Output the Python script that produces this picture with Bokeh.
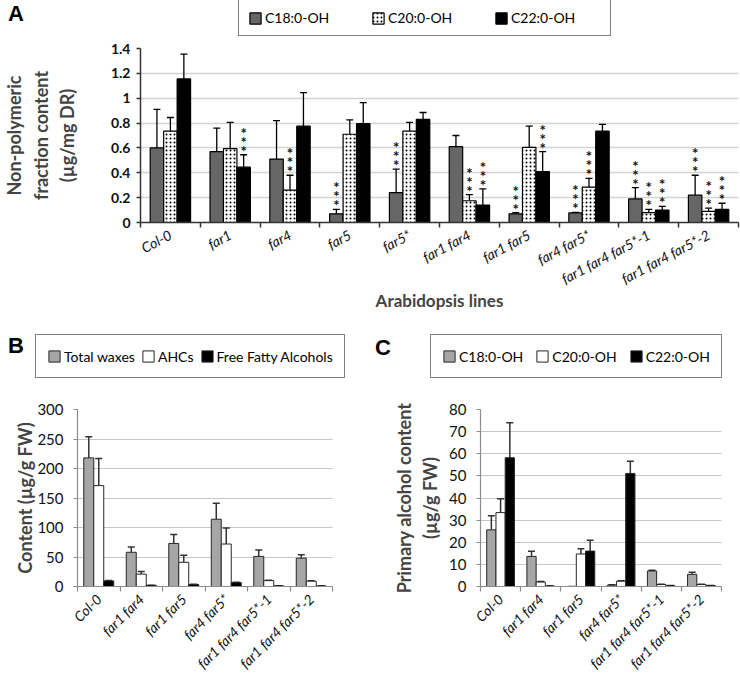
import numpy as np
from bokeh.plotting import figure
from bokeh.models import (ColumnDataSource, Range1d, FixedTicker, Whisker, TeeHead,
                          Legend, LegendItem, Div, PrintfTickFormatter)
from bokeh.layouts import column, row
from bokeh.embed import file_html
from bokeh.resources import INLINE
from bokeh.core.properties import value

FONT = "Lato"

# ---------------- Panel A data ----------------
lines_a = ["Col-0", "far1", "far4", "far5", "far5*", "far1 far4", "far1 far5",
           "far4 far5*", "far1 far4 far5*-1", "far1 far4 far5*-2"]
series_a = ["C18:0-OH", "C20:0-OH", "C22:0-OH"]
c18_a = [0.60, 0.57, 0.51, 0.07, 0.24, 0.61, 0.07, 0.077, 0.19, 0.22]
c18_a_err = [0.31, 0.19, 0.31, 0.035, 0.19, 0.09, 0.01, 0.005, 0.09, 0.16]
c20_a = [0.735, 0.595, 0.26, 0.71, 0.735, 0.175, 0.605, 0.285, 0.08, 0.09]
c20_a_err = [0.11, 0.21, 0.12, 0.115, 0.07, 0.05, 0.17, 0.07, 0.025, 0.025]
c22_a = [1.155, 0.445, 0.775, 0.795, 0.83, 0.14, 0.41, 0.735, 0.10, 0.105]
c22_a_err = [0.20, 0.10, 0.27, 0.17, 0.055, 0.13, 0.16, 0.055, 0.03, 0.05]
c18_a_sig = [0, 0, 0, 1, 1, 0, 1, 1, 1, 1]
c20_a_sig = [0, 0, 1, 0, 0, 1, 0, 1, 1, 1]
c22_a_sig = [0, 1, 0, 0, 0, 1, 1, 0, 1, 1]
y_ticks_a = [0, 0.2, 0.4, 0.6, 0.8, 1.0, 1.2, 1.4]

# ---------------- Panel B data ----------------
lines_bc = ["Col-0", "far1 far4", "far1 far5", "far4 far5*",
            "far1 far4 far5*-1", "far1 far4 far5*-2"]
series_b = ["Total waxes", "AHCs", "Free Fatty Alcohols"]
total_b = [218, 58, 73, 114, 51, 48]
total_b_err = [36, 9, 15, 27, 11, 6]
ahc_b = [171, 21, 41, 72, 10, 9]
ahc_b_err = [46, 4.5, 12, 27, 0.8, 0.8]
ffa_b = [9.5, 2, 3.4, 6.8, 1.1, 1.0]
ffa_b_err = [0.8, 0.3, 0.3, 0.5, 0.2, 0.2]
y_ticks_b = [0, 50, 100, 150, 200, 250, 300]

# ---------------- Panel C data ----------------
series_c = ["C18:0-OH", "C20:0-OH", "C22:0-OH"]
c18_c = [25.6, 13.6, 0, 0.6, 7.0, 5.5]
c18_c_err = [6.4, 2.3, 0, 0.2, 0.3, 0.9]
c20_c = [33.4, 2.0, 14.7, 2.4, 0.9, 0.9]
c20_c_err = [6.3, 0.3, 2.4, 0.2, 0.1, 0.1]
c22_c = [58.2, 0.2, 16.0, 51.1, 0.3, 0.4]
c22_c_err = [15.8, 0.1, 4.9, 5.5, 0.1, 0.1]
y_ticks_c = [0, 10, 20, 30, 40, 50, 60, 70, 80]

STYLE_A = [dict(fill="#666666"), dict(fill="white", hatch="dot", hatch_scale=4),
           dict(fill="black")]
STYLE_BC = [dict(fill="#a6a6a6"), dict(fill="white"), dict(fill="black")]


def bar_kwargs(st, outline, outline_w):
    kw = dict(fill_color=st["fill"], line_color=outline, line_width=outline_w)
    if st.get("hatch"):
        kw.update(hatch_pattern=st["hatch"], hatch_color="black",
                  hatch_scale=st.get("hatch_scale", 4), hatch_weight=1)
    return kw


def letter_div(letter, width, height, pad_left, pad_top):
    html = ('<div style="font-family: \'Liberation Sans\', Arial, sans-serif; '
            'font-weight: bold; font-size: 22px; line-height: 22px; color: black; '
            f'padding-left: {pad_left}px; padding-top: {pad_top}px;">{letter}</div>')
    return Div(text=html, width=width, height=height, margin=0)


def build_header(names, vals, styles, cfg):
    """Strip above a panel that carries the framed legend box."""
    w, h = cfg["width"], cfg["height"]
    n = len(vals[0])
    hp = figure(width=w, height=h, x_range=Range1d(0, n), y_range=Range1d(0, 1),
                x_axis_type=None, y_axis_type=None, output_backend="svg",
                toolbar_location=None, min_border=0)
    hp.outline_line_color = None
    items = []
    for k, (name, st) in enumerate(zip(names, styles)):
        # legend swatch renderer (same series, hidden: the bars live in the panel below)
        src = ColumnDataSource(dict(x=np.arange(n) + 0.5, top=vals[k]))
        r = hp.vbar(x="x", top="top", width=0.2, source=src,
                    **bar_kwargs(st, cfg["outline"], cfg["outline_w"]))
        r.visible = False
        items.append(LegendItem(label=name, renderers=[r]))
    leg = Legend(items=items, orientation="horizontal", location=cfg["leg_loc"],
                 margin=0, padding=cfg["leg_pad"], spacing=cfg["leg_sp"],
                 glyph_width=14, glyph_height=14, label_standoff=3,
                 label_width=cfg.get("leg_lw", 0), label_height=cfg["leg_lh"],
                 label_text_font=FONT, label_text_font_size=cfg["leg_fs"],
                 label_text_color="black", click_policy="none",
                 inactive_fill_alpha=0.0,
                 border_line_color="black", border_line_width=1.2,
                 background_fill_color="white", background_fill_alpha=1.0)
    hp.add_layout(leg)
    return hp


def build_panel(lines, names, vals, errs, sigs, styles, cfg):
    n = len(lines)
    centers = np.arange(n) + 0.5
    p = figure(width=cfg["width"], height=cfg["height"],
               x_range=Range1d(0, n), y_range=Range1d(cfg["y_ticks"][0], cfg["y_ticks"][-1]),
               output_backend="svg", toolbar_location=None,
               min_border_left=cfg["bl"], min_border_right=cfg["br"],
               min_border_top=cfg["bt"], min_border_bottom=cfg["bb"])
    p.outline_line_color = None
    p.xgrid.grid_line_color = None
    p.ygrid.grid_line_color = cfg["grid_color"]
    p.ygrid.grid_line_width = cfg["grid_w"]
    if cfg.get("grid_dash"):
        p.ygrid.grid_line_dash = cfg["grid_dash"]

    bw = cfg["bar_w"]
    offsets = [-bw, 0.0, bw]
    for k, name in enumerate(names):
        xs = centers + offsets[k]
        top = np.array(vals[k], dtype=float)
        upper = top + np.array(errs[k], dtype=float)
        src = ColumnDataSource(dict(x=xs, top=top, upper=upper))
        p.vbar(x="x", top="top", bottom=0, width=bw, source=src,
               **bar_kwargs(styles[k], cfg["outline"], cfg["outline_w"]))
        w = Whisker(source=src, base="x", lower="top", upper="upper", dimension="height",
                    line_color=cfg["err_c"], line_width=cfg["err_w"],
                    upper_head=TeeHead(size=cfg["cap"], line_color=cfg["err_c"],
                                       line_width=cfg["err_w"]),
                    lower_head=None)
        p.add_layout(w)
        if sigs is not None:
            mask = np.array(sigs[k]) == 1
            if mask.any():
                ssrc = ColumnDataSource(dict(x=xs[mask], y=upper[mask]))
                for off in cfg["star_offsets"]:
                    p.text(x="x", y="y", text=value("*"), source=ssrc, y_offset=off,
                           text_align="center", text_baseline="middle",
                           text_font=value(FONT), text_font_size=value("15px"),
                           text_font_style="bold", text_color="#111111")

    # x axis: labels at category centres, ticks at category boundaries
    xa = p.xaxis[0]
    xa.ticker = FixedTicker(ticks=list(centers), minor_ticks=list(range(n + 1)))
    xa.major_label_overrides = {float(c): lab for c, lab in zip(centers, lines)}
    xa.major_tick_out = 0
    xa.major_tick_in = 0
    xa.minor_tick_out = 5
    xa.minor_tick_in = 0
    xa.minor_tick_line_color = cfg["axis_c"]
    xa.minor_tick_line_width = cfg["axis_w"]
    xa.axis_line_color = cfg["axis_c"]
    xa.axis_line_width = cfg["axis_w"]
    xa.major_label_orientation = cfg["x_angle"]
    xa.major_label_text_font = FONT
    xa.major_label_text_font_style = "italic"
    xa.major_label_text_font_size = cfg["x_fs"]
    xa.major_label_text_color = "#111111"
    xa.major_label_standoff = cfg["x_standoff"]
    if cfg.get("x_title"):
        xa.axis_label = cfg["x_title"]
        xa.axis_label_text_font = FONT
        xa.axis_label_text_font_style = "bold"
        xa.axis_label_text_font_size = cfg["title_fs"]
        xa.axis_label_standoff = cfg["x_title_standoff"]

    ya = p.yaxis[0]
    ya.ticker = FixedTicker(ticks=cfg["y_ticks"])
    if cfg.get("y_fmt"):
        ya.formatter = PrintfTickFormatter(format=cfg["y_fmt"])
    ya.minor_tick_line_color = None
    ya.major_tick_out = 4
    ya.major_tick_in = 0
    ya.major_tick_line_color = cfg["axis_c"]
    ya.major_tick_line_width = cfg["axis_w"]
    ya.axis_line_color = cfg["axis_c"]
    ya.axis_line_width = cfg["axis_w"]
    ya.major_label_text_font = FONT
    ya.major_label_text_font_style = cfg["y_style"]
    ya.major_label_text_font_size = cfg["y_fs"]
    ya.major_label_text_color = "#111111"
    ya.major_label_standoff = cfg["y_standoff"]
    ya.axis_label = cfg["y_title"]
    ya.axis_label_text_font = FONT
    ya.axis_label_text_font_style = "bold"
    ya.axis_label_text_font_size = cfg["y_title_fs"]
    ya.axis_label_standoff = cfg["y_label_standoff"]
    return p


# ---------------- Panel A ----------------
ha = build_header(series_a, [c18_a, c20_a, c22_a], STYLE_A,
                  dict(width=710, height=40, outline="black", outline_w=1.2,
                       leg_loc=(208, 4), leg_pad=9, leg_sp=16, leg_lw=90, leg_lh=17,
                       leg_fs="14px"))
pa = build_panel(
    lines_a, series_a, [c18_a, c20_a, c22_a], [c18_a_err, c20_a_err, c22_a_err],
    [c18_a_sig, c20_a_sig, c22_a_sig], STYLE_A,
    dict(width=740, height=290, bl=138, br=2, bt=8, bb=108,
         y_ticks=y_ticks_a, y_fmt="%g", grid_color="#d4d4d4", grid_w=1.5,
         bar_w=0.225, outline="black", outline_w=1.2, err_c="black", err_w=1.3, cap=7,
         star_offsets=[-4, -13, -22],
         axis_c="#333333", axis_w=1.5, x_angle=0.49, x_fs="14px", x_standoff=6,
         x_title="Arabidopsis lines", x_title_standoff=-8, title_fs="17px",
         y_title_fs="18px",
         y_style="bold", y_fs="14px", y_standoff=6,
         y_title="Non-polymeric\nfraction content\n(µg/mg DR)", y_label_standoff=30))

# ---------------- Panel B ----------------
hb = build_header(series_b, [total_b, ahc_b, ffa_b], STYLE_BC,
                  dict(width=340, height=50, outline="#262626", outline_w=1,
                       leg_loc=(5, 2), leg_pad=11, leg_sp=6, leg_lh=20,
                       leg_fs="14px"))
pb = build_panel(
    lines_bc, series_b, [total_b, ahc_b, ffa_b], [total_b_err, ahc_b_err, ffa_b_err], None,
    STYLE_BC,
    dict(width=370, height=304, bl=77, br=38, bt=29, bb=98,
         y_ticks=y_ticks_b, grid_color="#8c8c8c", grid_w=1, grid_dash="1 1",
         bar_w=0.235, outline="#262626", outline_w=1, err_c="#333333", err_w=1.5, cap=7,
         star_offsets=[],
         axis_c="#8c8c8c", axis_w=1.2, x_angle=0.785, x_fs="14px", x_standoff=5,
         title_fs="18px", y_title_fs="18px",
         y_style="normal", y_fs="15px", y_standoff=10,
         y_title="Content (µg/g FW)", y_label_standoff=-2))

# ---------------- Panel C ----------------
hc = build_header(series_c, [c18_c, c20_c, c22_c], STYLE_BC,
                  dict(width=340, height=50, outline="#262626", outline_w=1,
                       leg_loc=(30, 2), leg_pad=11, leg_sp=12, leg_lh=20,
                       leg_fs="14px"))
pc = build_panel(
    lines_bc, series_c, [c18_c, c20_c, c22_c], [c18_c_err, c20_c_err, c22_c_err], None,
    STYLE_BC,
    dict(width=370, height=304, bl=110, br=19, bt=29, bb=98,
         y_ticks=y_ticks_c, grid_color="#8c8c8c", grid_w=1, grid_dash="1 1",
         bar_w=0.23, outline="#262626", outline_w=1, err_c="#333333", err_w=1.5, cap=7,
         star_offsets=[],
         axis_c="#8c8c8c", axis_w=1.2, x_angle=0.785, x_fs="14px", x_standoff=5,
         title_fs="18px", y_title_fs="18px",
         y_style="normal", y_fs="15px", y_standoff=10,
         y_title="Primary alcohol content\n(µg/g FW)", y_label_standoff=5))

layout = column(
    row(letter_div("A", 30, 40, 8, 3), ha),
    row(pa),
    row(letter_div("B", 30, 50, 8, 5), hb, letter_div("C", 30, 50, 5, 7), hc),
    row(pb, pc),
)
open("out.html", "w").write(file_html(layout, INLINE))
